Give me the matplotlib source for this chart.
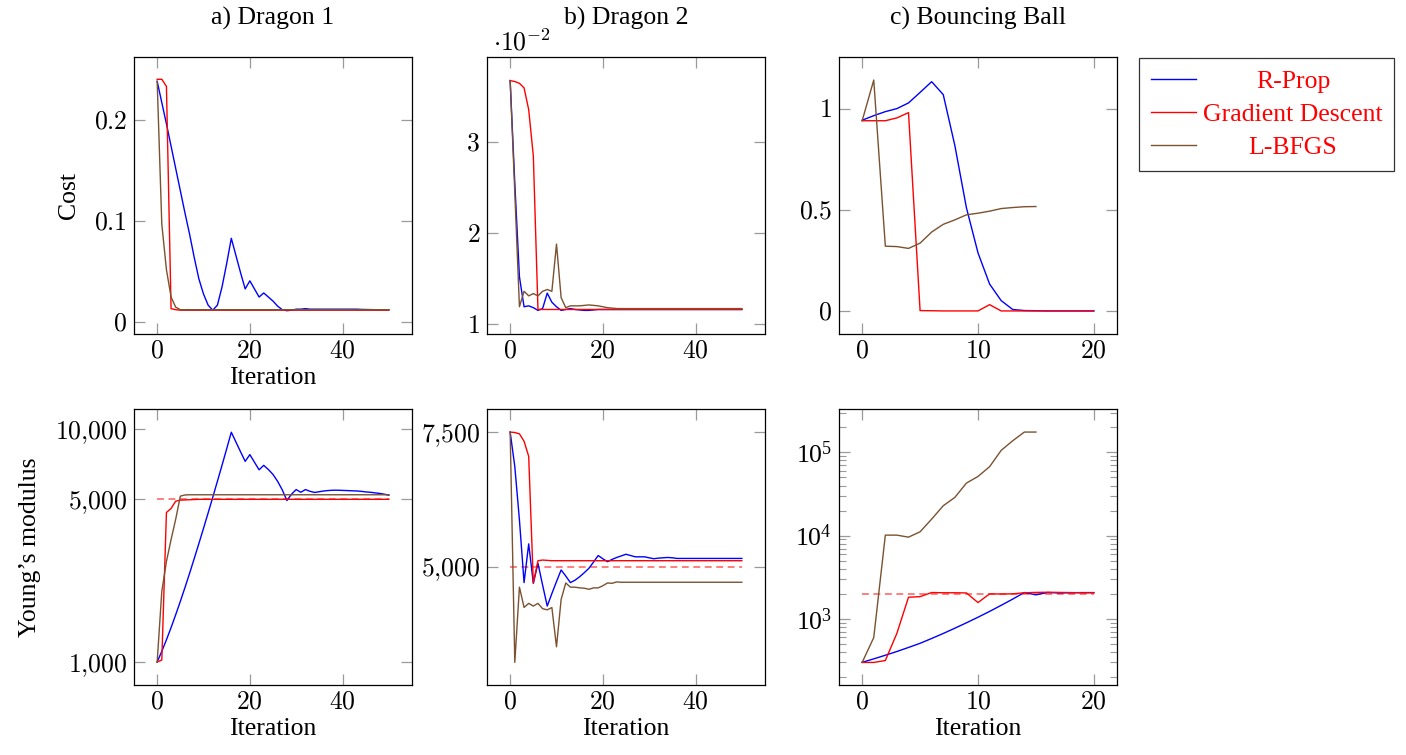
import matplotlib
matplotlib.use("Agg")
import matplotlib.pyplot as plt
import matplotlib.ticker as mticker
import matplotlib.transforms as mtransforms
import numpy as np

plt.rcParams['mathtext.fontset'] = 'cm'
plt.rcParams['font.family'] = ['Liberation Serif', 'DejaVu Serif']

# ---------------- data ----------------
titles = ["a) Dragon 1", "b) Dragon 2", "c) Bouncing Ball"]
series_names = ["R-Prop", "Gradient Descent", "L-BFGS"]

iters_50 = list(range(51))
iters_20 = list(range(21))
iters_15 = list(range(16))

# Dragon 1 cost
d1_cost_rprop = [0.238, 0.217, 0.196, 0.174, 0.152, 0.130, 0.108, 0.087, 0.064, 0.043,
                 0.028, 0.017, 0.012, 0.017, 0.035, 0.058, 0.083, 0.066, 0.049, 0.033,
                 0.041, 0.033, 0.025, 0.029, 0.025, 0.021, 0.016, 0.0125, 0.0115, 0.012,
                 0.013, 0.013, 0.0135, 0.013, 0.013, 0.013, 0.013, 0.013, 0.013, 0.013,
                 0.013, 0.013, 0.013, 0.013, 0.0128, 0.0127, 0.0126, 0.0125, 0.0125, 0.0125, 0.0125]
d1_cost_gd = [0.240, 0.240, 0.233, 0.0135, 0.0125] + [0.012] * 46
d1_cost_lbfgs = [0.238, 0.097, 0.052, 0.025, 0.015, 0.0125] + [0.0125] * 45

# Dragon 1 Young's modulus
d1_ym_rprop = [1000, 1112, 1246, 1405, 1596, 1821, 2087, 2403, 2780, 3223,
               3746, 4363, 5093, 5963, 6991, 8217, 9683, 8790, 7980, 7260,
               7760, 7200, 6680, 6980, 6700, 6380, 5960, 5480, 4930, 5250,
               5495, 5350, 5495, 5400, 5340, 5380, 5420, 5445, 5460, 5460,
               5450, 5440, 5430, 5420, 5400, 5370, 5350, 5320, 5290, 5250, 5200]
d1_ym_gd = [1000, 1020, 4380, 4560, 4900, 4950, 4960, 4970, 4980] + [4990] * 42
d1_ym_lbfgs = [1000, 2010, 2700, 3350, 4100, 5150, 5210] + [5220] * 44

# Dragon 2 cost (x 1e-2)
d2_cost_rprop = [3.68, 2.55, 1.52, 1.19, 1.20, 1.18, 1.15, 1.17, 1.34, 1.24,
                 1.19, 1.15, 1.16, 1.17, 1.16, 1.155, 1.15, 1.15, 1.155, 1.16] + [1.16] * 31
d2_cost_gd = [3.68, 3.67, 3.65, 3.60, 3.36, 2.85, 1.16] + [1.16] * 44
d2_cost_lbfgs = [3.68, 2.45, 1.19, 1.36, 1.31, 1.335, 1.31, 1.36, 1.38, 1.36,
                 1.88, 1.29, 1.18, 1.20, 1.20, 1.20, 1.205, 1.21, 1.205, 1.20,
                 1.19, 1.18, 1.175] + [1.17] * 28

# Dragon 2 Young's modulus
d2_ym_rprop = [7500, 6760, 5755, 4765, 5355, 4755, 5050, 4730, 4440, 4610,
               4780, 4950, 4860, 4765, 4800, 4850, 4910, 4975, 5070, 5170,
               5120, 5075, 5110, 5140, 5165, 5190, 5170, 5150, 5150, 5150,
               5135, 5120, 5130, 5135, 5140, 5135] + [5125] * 15
d2_ym_gd = [7500, 7490, 7460, 7295, 6970, 4760, 5090, 5100, 5095] + [5090] * 42
d2_ym_lbfgs = [7500, 3747, 4700, 4422, 4476, 4440, 4476, 4405, 4390, 4420,
               3927, 4530, 4760, 4700, 4700, 4690, 4685, 4670, 4690, 4690,
               4720, 4760, 4755, 4775] + [4770] * 27

# Bouncing ball cost
bb_cost_rprop = [0.9425, 0.965, 0.985, 1.0, 1.028, 1.08, 1.133, 1.069, 0.818, 0.51,
                 0.287, 0.133, 0.051, 0.007, 0.002, 0.001, 0.0, 0.0, 0.0, 0.0, 0.0]
bb_cost_gd = [0.94, 0.94, 0.94, 0.954, 0.98, 0.0016, 0.001, 0.0, 0.0, 0.0,
              0.0, 0.031, 0.0, 0.0, 0.0, 0.0, 0.0, 0.0, 0.0, 0.0, 0.0]
bb_cost_lbfgs = [0.94, 1.141, 0.32, 0.318, 0.309, 0.335, 0.39, 0.428, 0.45, 0.475,
                 0.483, 0.493, 0.506, 0.511, 0.515, 0.516]

# Bouncing ball Young's modulus
bb_ym_rprop = [301, 331, 366, 406, 454, 509, 582, 668, 773, 897,
               1047, 1230, 1455, 1730, 2075, 1945, 2074, 2050, 2060, 2070, 2070]
bb_ym_gd = [300, 300, 316, 673, 1820, 1850, 2074, 2060, 2060, 2050,
            1571, 1997, 1990, 2000, 2060, 2080, 2090, 2080, 2070, 2060, 2060]
bb_ym_lbfgs = [300, 597, 10140, 10140, 9590, 11120, 15800, 22850, 28780, 42760,
               51400, 67300, 105700, 138000, 175400, 175400]

# ground-truth reference values (dashed)
ref_d1 = 5000
ref_d2 = 5000
ref_bb = 2000

# ticks
xticks_50 = [0, 20, 40]
xticks_20 = [0, 10, 20]
yt_d1_cost = [0, 0.1, 0.2]
yt_d2_cost = [1, 2, 3]
yt_bb_cost = [0, 0.5, 1]
yt_d1_ym = [1000, 5000, 10000]
yt_d2_ym = [5000, 7500]

# ---------------- style ----------------
C_BLUE = '#0000ff'
C_RED = '#ff0000'
C_BROWN = '#7a5230'
FS = 18.5
LW = 1.0

W, H = 1406, 755
fig = plt.figure(figsize=(W / 100, H / 100), dpi=100)

col_left = [134, 487, 839]
ax_w = 278
rows = [(57, 334), (409, 685)]


def make_ax(col, row):
    top, bot = rows[row]
    l = col_left[col]
    return fig.add_axes([l / W, 1 - bot / H, ax_w / W, (bot - top) / H])


def mfmt(v, pos=None):
    s = ('%g' % v)
    return '$' + s + '$'


def comma_fmt(v, pos=None):
    s = '{:,.0f}'.format(v).replace(',', '{,}')
    return '$' + s + '$'


def style(ax):
    for sp in ax.spines.values():
        sp.set_linewidth(0.9)
        sp.set_color('black')
    ax.tick_params(which='major', direction='in', top=True, right=True,
                   length=8, width=0.9, color='#9a9a9a', labelsize=FS, pad=5)
    ax.tick_params(which='minor', direction='in', top=True, right=True,
                   length=5, width=0.8, color='#9a9a9a')
    ax.tick_params(axis='x', pad=5)


axes = [[make_ax(c, r) for c in range(3)] for r in range(2)]

# --- top row: cost ---
cost_data = [
    (iters_50, d1_cost_rprop, iters_50, d1_cost_gd, iters_50, d1_cost_lbfgs),
    (iters_50, d2_cost_rprop, iters_50, d2_cost_gd, iters_50, d2_cost_lbfgs),
    (iters_20, bb_cost_rprop, iters_20, bb_cost_gd, iters_15, bb_cost_lbfgs),
]
ylims_cost = [(-0.0115, 0.262), (0.89, 3.94), (-0.114, 1.255)]
yticks_cost = [yt_d1_cost, yt_d2_cost, yt_bb_cost]
xlims = [(-5, 55), (-5, 55), (-2, 22)]
xticks = [xticks_50, xticks_50, xticks_20]

legend_handles = None
for i in range(3):
    ax = axes[0][i]
    xr, yr, xg, yg, xl, yl = cost_data[i]
    h1, = ax.plot(xr, yr, color=C_BLUE, lw=LW)
    h2, = ax.plot(xg, yg, color=C_RED, lw=LW)
    h3, = ax.plot(xl, yl, color=C_BROWN, lw=LW)
    if legend_handles is None:
        legend_handles = [h1, h2, h3]
    ax.set_xlim(*xlims[i])
    ax.set_ylim(*ylims_cost[i])
    ax.set_xticks(xticks[i])
    ax.set_yticks(yticks_cost[i])
    ax.xaxis.set_major_formatter(mticker.FuncFormatter(mfmt))
    ax.yaxis.set_major_formatter(mticker.FuncFormatter(mfmt))
    style(ax)
    ax.set_title(titles[i], fontsize=FS, pad=23)

axes[0][0].set_ylabel("Cost", fontsize=FS, labelpad=10)
axes[0][0].set_xlabel("Iteration", fontsize=FS, labelpad=3)
axes[0][1].text(0.02, 1.005, r'$\cdot10^{-2}$', transform=axes[0][1].transAxes,
                ha='left', va='bottom', fontsize=FS)

# --- bottom row: Young's modulus ---
ym_data = [
    (iters_50, d1_ym_rprop, iters_50, d1_ym_gd, iters_50, d1_ym_lbfgs, ref_d1),
    (iters_50, d2_ym_rprop, iters_50, d2_ym_gd, iters_50, d2_ym_lbfgs, ref_d2),
    (iters_20, bb_ym_rprop, iters_20, bb_ym_gd, iters_15, bb_ym_lbfgs, ref_bb),
]
ylims_ym = [(797, 12180), (3500, 8040), (160.7, 331900)]
for i in range(3):
    ax = axes[1][i]
    xr, yr, xg, yg, xl, yl, ref = ym_data[i]
    ax.set_yscale('log')
    ax.plot([xr[0], xr[-1]], [ref, ref], color='#ff4040', lw=1.1,
            linestyle=(0, (4.5, 3.0)), alpha=0.85)
    ax.plot(xr, yr, color=C_BLUE, lw=LW)
    ax.plot(xg, yg, color=C_RED, lw=LW)
    ax.plot(xl, yl, color=C_BROWN, lw=LW)
    ax.set_xlim(*xlims[i])
    ax.set_ylim(*ylims_ym[i])
    ax.set_xticks(xticks[i])
    ax.xaxis.set_major_formatter(mticker.FuncFormatter(mfmt))
    if i < 2:
        ax.yaxis.set_major_locator(mticker.FixedLocator([yt_d1_ym, yt_d2_ym][i]))
        ax.yaxis.set_minor_locator(mticker.NullLocator())
        ax.yaxis.set_major_formatter(mticker.FuncFormatter(comma_fmt))
        ax.yaxis.set_minor_formatter(mticker.NullFormatter())
    else:
        ax.yaxis.set_major_locator(mticker.LogLocator(base=10, numticks=10))
        ax.yaxis.set_minor_locator(mticker.LogLocator(base=10, subs=np.arange(2, 10), numticks=20))
        ax.yaxis.set_major_formatter(mticker.LogFormatterMathtext())
        ax.yaxis.set_minor_formatter(mticker.NullFormatter())
    style(ax)
    ax.set_xlabel("Iteration", fontsize=FS, labelpad=3)

axes[1][0].set_ylabel("Young\u2019s modulus", fontsize=FS, labelpad=10)

# --- legend ---
leg = fig.legend(legend_handles, series_names, loc='upper left',
                 bbox_to_anchor=(1139 / W, 1 - 58 / H), borderaxespad=0,
                 fontsize=FS, labelcolor=C_RED, frameon=True, fancybox=False,
                 edgecolor='black', handlelength=1.75, handletextpad=0.3,
                 borderpad=0.45, labelspacing=0.4)
leg.get_frame().set_linewidth(0.9)

fig.canvas.draw()
r = fig.canvas.get_renderer()
texts = leg.get_texts()
ws = [t.get_window_extent(r).width for t in texts]
mw = max(ws)
for t, w in zip(texts, ws):
    t.set_transform(t.get_transform() + mtransforms.Affine2D().translate((mw - w) / 2, 0))

fig.savefig("out.png", dpi=100)
